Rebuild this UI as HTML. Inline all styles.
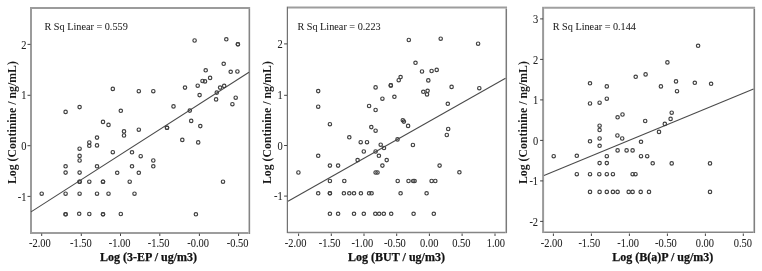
<!DOCTYPE html><html><head><meta charset="utf-8"><style>html,body{margin:0;padding:0;background:#fff;overflow:hidden}svg{display:block;will-change:transform}text{font-family:"Liberation Serif",serif}.t{font-size:11px;fill:#222;stroke:#222;stroke-width:0.05px}.r{font-size:10.6px;fill:#222;stroke:#222;stroke-width:0.05px}</style></head><body>
<svg width="762" height="271" viewBox="0 0 762 271">
<rect width="762" height="271" fill="#fff"/>
<line x1="31" y1="7.0" x2="31" y2="234.0" stroke="#9b9b9b" stroke-width="2"/>
<line x1="32.0" y1="8" x2="250.15" y2="8" stroke="#9b9b9b" stroke-width="2"/>
<line x1="249.35" y1="9.0" x2="249.35" y2="234.0" stroke="#858585" stroke-width="1.6"/>
<line x1="32.0" y1="233" x2="248.54999999999998" y2="233" stroke="#9d9d9d" stroke-width="2"/>
<line x1="27.5" y1="44.4" x2="30.5" y2="44.4" stroke="#444" stroke-width="1"/>
<text class="t" transform="translate(26.40,48.50) scale(0.95,1.04)" text-anchor="end">2</text>
<line x1="27.5" y1="95.3" x2="30.5" y2="95.3" stroke="#444" stroke-width="1"/>
<text class="t" transform="translate(26.40,99.40) scale(0.95,1.04)" text-anchor="end">1</text>
<line x1="27.5" y1="145.7" x2="30.5" y2="145.7" stroke="#444" stroke-width="1"/>
<text class="t" transform="translate(26.40,149.80) scale(0.95,1.04)" text-anchor="end">0</text>
<line x1="27.5" y1="196.4" x2="30.5" y2="196.4" stroke="#444" stroke-width="1"/>
<text class="t" transform="translate(26.40,200.50) scale(0.95,1.04)" text-anchor="end">-1</text>
<line x1="41.7" y1="233.5" x2="41.7" y2="236" stroke="#444" stroke-width="1"/>
<text class="t" transform="translate(29.00,246.9) scale(0.95,1.04)">-2.00</text>
<line x1="81.3" y1="233.5" x2="81.3" y2="236" stroke="#444" stroke-width="1"/>
<text class="t" transform="translate(70.00,246.9) scale(0.95,1.04)">-1.50</text>
<line x1="120.5" y1="233.5" x2="120.5" y2="236" stroke="#444" stroke-width="1"/>
<text class="t" transform="translate(108.80,246.9) scale(0.95,1.04)">-1.00</text>
<line x1="159.8" y1="233.5" x2="159.8" y2="236" stroke="#444" stroke-width="1"/>
<text class="t" transform="translate(147.70,246.9) scale(0.95,1.04)">-1.50</text>
<line x1="199.4" y1="233.5" x2="199.4" y2="236" stroke="#444" stroke-width="1"/>
<text class="t" transform="translate(187.30,246.9) scale(0.95,1.04)">-0.00</text>
<line x1="238.6" y1="233.5" x2="238.6" y2="236" stroke="#444" stroke-width="1"/>
<text class="t" transform="translate(226.70,246.9) scale(0.95,1.04)">-0.50</text>
<line x1="31" y1="211.9" x2="249" y2="72.3" stroke="#4a4a4a" stroke-width="1.05"/>
<circle cx="237.9" cy="44.3" r="1.72" fill="none" stroke="#404040" stroke-width="1.18"/>
<circle cx="65.6" cy="214.3" r="1.72" fill="none" stroke="#404040" stroke-width="1.18"/>
<circle cx="103" cy="181.7" r="1.72" fill="none" stroke="#404040" stroke-width="1.18"/>
<circle cx="103" cy="214.3" r="1.72" fill="none" stroke="#404040" stroke-width="1.18"/>
<circle cx="167" cy="127.8" r="1.72" fill="none" stroke="#404040" stroke-width="1.18"/>
<circle cx="79.6" cy="181.7" r="1.72" fill="none" stroke="#404040" stroke-width="1.18"/>
<circle cx="194.6" cy="40.5" r="1.72" fill="none" stroke="#404040" stroke-width="1.18"/>
<circle cx="226.3" cy="39.3" r="1.72" fill="none" stroke="#404040" stroke-width="1.18"/>
<circle cx="237.9" cy="44.3" r="1.72" fill="none" stroke="#404040" stroke-width="1.18"/>
<circle cx="223.7" cy="63.8" r="1.72" fill="none" stroke="#404040" stroke-width="1.18"/>
<circle cx="205.7" cy="70.3" r="1.72" fill="none" stroke="#404040" stroke-width="1.18"/>
<circle cx="230.7" cy="71.8" r="1.72" fill="none" stroke="#404040" stroke-width="1.18"/>
<circle cx="237.4" cy="71.5" r="1.72" fill="none" stroke="#404040" stroke-width="1.18"/>
<circle cx="210.1" cy="77.9" r="1.72" fill="none" stroke="#404040" stroke-width="1.18"/>
<circle cx="153.3" cy="91.2" r="1.72" fill="none" stroke="#404040" stroke-width="1.18"/>
<circle cx="185" cy="87.6" r="1.72" fill="none" stroke="#404040" stroke-width="1.18"/>
<circle cx="197.7" cy="85.7" r="1.72" fill="none" stroke="#404040" stroke-width="1.18"/>
<circle cx="202.5" cy="81" r="1.72" fill="none" stroke="#404040" stroke-width="1.18"/>
<circle cx="205" cy="81.4" r="1.72" fill="none" stroke="#404040" stroke-width="1.18"/>
<circle cx="220.1" cy="87.6" r="1.72" fill="none" stroke="#404040" stroke-width="1.18"/>
<circle cx="224.2" cy="85.9" r="1.72" fill="none" stroke="#404040" stroke-width="1.18"/>
<circle cx="216.8" cy="92.6" r="1.72" fill="none" stroke="#404040" stroke-width="1.18"/>
<circle cx="199.6" cy="95.1" r="1.72" fill="none" stroke="#404040" stroke-width="1.18"/>
<circle cx="216.1" cy="99.4" r="1.72" fill="none" stroke="#404040" stroke-width="1.18"/>
<circle cx="235.7" cy="97.7" r="1.72" fill="none" stroke="#404040" stroke-width="1.18"/>
<circle cx="232.4" cy="104.2" r="1.72" fill="none" stroke="#404040" stroke-width="1.18"/>
<circle cx="173.5" cy="106.4" r="1.72" fill="none" stroke="#404040" stroke-width="1.18"/>
<circle cx="189.8" cy="110.6" r="1.72" fill="none" stroke="#404040" stroke-width="1.18"/>
<circle cx="191.2" cy="120.9" r="1.72" fill="none" stroke="#404040" stroke-width="1.18"/>
<circle cx="200.3" cy="126.1" r="1.72" fill="none" stroke="#404040" stroke-width="1.18"/>
<circle cx="167" cy="127.8" r="1.72" fill="none" stroke="#404040" stroke-width="1.18"/>
<circle cx="182.3" cy="139.9" r="1.72" fill="none" stroke="#404040" stroke-width="1.18"/>
<circle cx="198.2" cy="142.4" r="1.72" fill="none" stroke="#404040" stroke-width="1.18"/>
<circle cx="140.7" cy="156.2" r="1.72" fill="none" stroke="#404040" stroke-width="1.18"/>
<circle cx="153.3" cy="160.5" r="1.72" fill="none" stroke="#404040" stroke-width="1.18"/>
<circle cx="153.3" cy="166.3" r="1.72" fill="none" stroke="#404040" stroke-width="1.18"/>
<circle cx="223" cy="181.7" r="1.72" fill="none" stroke="#404040" stroke-width="1.18"/>
<circle cx="195.9" cy="214.3" r="1.72" fill="none" stroke="#404040" stroke-width="1.18"/>
<circle cx="112.8" cy="88.9" r="1.72" fill="none" stroke="#404040" stroke-width="1.18"/>
<circle cx="138.8" cy="91.2" r="1.72" fill="none" stroke="#404040" stroke-width="1.18"/>
<circle cx="79.6" cy="107.1" r="1.72" fill="none" stroke="#404040" stroke-width="1.18"/>
<circle cx="65.6" cy="111.9" r="1.72" fill="none" stroke="#404040" stroke-width="1.18"/>
<circle cx="120.8" cy="110.8" r="1.72" fill="none" stroke="#404040" stroke-width="1.18"/>
<circle cx="103" cy="121.9" r="1.72" fill="none" stroke="#404040" stroke-width="1.18"/>
<circle cx="108.5" cy="124.9" r="1.72" fill="none" stroke="#404040" stroke-width="1.18"/>
<circle cx="124" cy="131.4" r="1.72" fill="none" stroke="#404040" stroke-width="1.18"/>
<circle cx="124" cy="135.5" r="1.72" fill="none" stroke="#404040" stroke-width="1.18"/>
<circle cx="138.8" cy="129.7" r="1.72" fill="none" stroke="#404040" stroke-width="1.18"/>
<circle cx="97" cy="137.6" r="1.72" fill="none" stroke="#404040" stroke-width="1.18"/>
<circle cx="89.3" cy="142.5" r="1.72" fill="none" stroke="#404040" stroke-width="1.18"/>
<circle cx="89.3" cy="145.8" r="1.72" fill="none" stroke="#404040" stroke-width="1.18"/>
<circle cx="97" cy="145.4" r="1.72" fill="none" stroke="#404040" stroke-width="1.18"/>
<circle cx="79.6" cy="148.7" r="1.72" fill="none" stroke="#404040" stroke-width="1.18"/>
<circle cx="112.8" cy="152.2" r="1.72" fill="none" stroke="#404040" stroke-width="1.18"/>
<circle cx="132" cy="152.3" r="1.72" fill="none" stroke="#404040" stroke-width="1.18"/>
<circle cx="79.6" cy="155.9" r="1.72" fill="none" stroke="#404040" stroke-width="1.18"/>
<circle cx="79.6" cy="160.5" r="1.72" fill="none" stroke="#404040" stroke-width="1.18"/>
<circle cx="65.6" cy="166.3" r="1.72" fill="none" stroke="#404040" stroke-width="1.18"/>
<circle cx="97" cy="166.3" r="1.72" fill="none" stroke="#404040" stroke-width="1.18"/>
<circle cx="132" cy="166.3" r="1.72" fill="none" stroke="#404040" stroke-width="1.18"/>
<circle cx="65.6" cy="172.6" r="1.72" fill="none" stroke="#404040" stroke-width="1.18"/>
<circle cx="79.6" cy="172.6" r="1.72" fill="none" stroke="#404040" stroke-width="1.18"/>
<circle cx="117.2" cy="172.8" r="1.72" fill="none" stroke="#404040" stroke-width="1.18"/>
<circle cx="138.8" cy="172.8" r="1.72" fill="none" stroke="#404040" stroke-width="1.18"/>
<circle cx="79.6" cy="181.7" r="1.72" fill="none" stroke="#404040" stroke-width="1.18"/>
<circle cx="89.3" cy="181.7" r="1.72" fill="none" stroke="#404040" stroke-width="1.18"/>
<circle cx="103" cy="181.7" r="1.72" fill="none" stroke="#404040" stroke-width="1.18"/>
<circle cx="129.7" cy="181.7" r="1.72" fill="none" stroke="#404040" stroke-width="1.18"/>
<circle cx="41.7" cy="193.7" r="1.72" fill="none" stroke="#404040" stroke-width="1.18"/>
<circle cx="65.6" cy="193.7" r="1.72" fill="none" stroke="#404040" stroke-width="1.18"/>
<circle cx="79.6" cy="193.7" r="1.72" fill="none" stroke="#404040" stroke-width="1.18"/>
<circle cx="97" cy="193.7" r="1.72" fill="none" stroke="#404040" stroke-width="1.18"/>
<circle cx="108.5" cy="193.7" r="1.72" fill="none" stroke="#404040" stroke-width="1.18"/>
<circle cx="134.5" cy="193.7" r="1.72" fill="none" stroke="#404040" stroke-width="1.18"/>
<circle cx="65.6" cy="214.3" r="1.72" fill="none" stroke="#404040" stroke-width="1.18"/>
<circle cx="79.2" cy="213.8" r="1.72" fill="none" stroke="#404040" stroke-width="1.18"/>
<circle cx="89.3" cy="214" r="1.72" fill="none" stroke="#404040" stroke-width="1.18"/>
<circle cx="103" cy="214.3" r="1.72" fill="none" stroke="#404040" stroke-width="1.18"/>
<circle cx="120.8" cy="214" r="1.72" fill="none" stroke="#404040" stroke-width="1.18"/>
<text class="r" transform="translate(44.5,30.2) scale(0.965,1)">R Sq Linear = 0.559</text>
<text x="148.5" y="260.7" font-size="12" font-weight="bold" fill="#111" stroke="#111" stroke-width="0.25" text-anchor="middle">Log (3-EP / ug/m3)</text>
<text transform="translate(15.6,122.6) rotate(-90)" font-size="11.8" font-weight="bold" fill="#1a1a1a" text-anchor="middle">Log (Continine / ng/mL)</text>
<line x1="287.4" y1="6.6" x2="287.4" y2="233.15" stroke="#727272" stroke-width="1.25"/>
<line x1="288.025" y1="7.6" x2="507.05" y2="7.6" stroke="#9d9d9d" stroke-width="2"/>
<line x1="506.3" y1="8.6" x2="506.3" y2="233.15" stroke="#7a7a7a" stroke-width="1.5"/>
<line x1="288.025" y1="232.4" x2="505.55" y2="232.4" stroke="#858585" stroke-width="1.5"/>
<line x1="284.1" y1="43.9" x2="287.1" y2="43.9" stroke="#444" stroke-width="1"/>
<text class="t" transform="translate(282.80,48.00) scale(0.95,1.04)" text-anchor="end">2</text>
<line x1="284.1" y1="95.3" x2="287.1" y2="95.3" stroke="#444" stroke-width="1"/>
<text class="t" transform="translate(282.80,99.40) scale(0.95,1.04)" text-anchor="end">1</text>
<line x1="284.1" y1="145.5" x2="287.1" y2="145.5" stroke="#444" stroke-width="1"/>
<text class="t" transform="translate(282.80,149.60) scale(0.95,1.04)" text-anchor="end">0</text>
<line x1="284.1" y1="196.1" x2="287.1" y2="196.1" stroke="#444" stroke-width="1"/>
<text class="t" transform="translate(282.80,200.20) scale(0.95,1.04)" text-anchor="end">-1</text>
<line x1="298.6" y1="233.5" x2="298.6" y2="236" stroke="#444" stroke-width="1"/>
<text class="t" transform="translate(284.70,246.9) scale(0.95,1.04)">-2.00</text>
<line x1="331.3" y1="233.5" x2="331.3" y2="236" stroke="#444" stroke-width="1"/>
<text class="t" transform="translate(318.80,246.9) scale(0.95,1.04)">-1.50</text>
<line x1="364.0" y1="233.5" x2="364.0" y2="236" stroke="#444" stroke-width="1"/>
<text class="t" transform="translate(351.40,246.9) scale(0.95,1.04)">-1.00</text>
<line x1="396.7" y1="233.5" x2="396.7" y2="236" stroke="#444" stroke-width="1"/>
<text class="t" transform="translate(384.10,246.9) scale(0.95,1.04)">-0.50</text>
<line x1="429.4" y1="233.5" x2="429.4" y2="236" stroke="#444" stroke-width="1"/>
<text class="t" transform="translate(420.10,246.9) scale(0.95,1.04)">0.00</text>
<line x1="462.1" y1="233.5" x2="462.1" y2="236" stroke="#444" stroke-width="1"/>
<text class="t" transform="translate(452.20,246.9) scale(0.95,1.04)">0.50</text>
<line x1="495.0" y1="233.5" x2="495.0" y2="236" stroke="#444" stroke-width="1"/>
<text class="t" transform="translate(486.80,246.9) scale(0.95,1.04)">1.00</text>
<line x1="288" y1="201.2" x2="505.5" y2="78.2" stroke="#4a4a4a" stroke-width="1.05"/>
<circle cx="408.8" cy="40" r="1.72" fill="none" stroke="#404040" stroke-width="1.18"/>
<circle cx="440.7" cy="38.7" r="1.72" fill="none" stroke="#404040" stroke-width="1.18"/>
<circle cx="478.1" cy="43.7" r="1.72" fill="none" stroke="#404040" stroke-width="1.18"/>
<circle cx="415.5" cy="62.8" r="1.72" fill="none" stroke="#404040" stroke-width="1.18"/>
<circle cx="422" cy="71.5" r="1.72" fill="none" stroke="#404040" stroke-width="1.18"/>
<circle cx="431.6" cy="71" r="1.72" fill="none" stroke="#404040" stroke-width="1.18"/>
<circle cx="436.7" cy="69.9" r="1.72" fill="none" stroke="#404040" stroke-width="1.18"/>
<circle cx="400.6" cy="77.1" r="1.72" fill="none" stroke="#404040" stroke-width="1.18"/>
<circle cx="398.7" cy="80.2" r="1.72" fill="none" stroke="#404040" stroke-width="1.18"/>
<circle cx="428.3" cy="80.4" r="1.72" fill="none" stroke="#404040" stroke-width="1.18"/>
<circle cx="451.6" cy="86.9" r="1.72" fill="none" stroke="#404040" stroke-width="1.18"/>
<circle cx="479.3" cy="88.2" r="1.72" fill="none" stroke="#404040" stroke-width="1.18"/>
<circle cx="423.3" cy="91.8" r="1.72" fill="none" stroke="#404040" stroke-width="1.18"/>
<circle cx="427.6" cy="90.8" r="1.72" fill="none" stroke="#404040" stroke-width="1.18"/>
<circle cx="427" cy="94.4" r="1.72" fill="none" stroke="#404040" stroke-width="1.18"/>
<circle cx="447.8" cy="103.8" r="1.72" fill="none" stroke="#404040" stroke-width="1.18"/>
<circle cx="402.8" cy="120.2" r="1.72" fill="none" stroke="#404040" stroke-width="1.18"/>
<circle cx="403.9" cy="121.6" r="1.72" fill="none" stroke="#404040" stroke-width="1.18"/>
<circle cx="408.1" cy="125.9" r="1.72" fill="none" stroke="#404040" stroke-width="1.18"/>
<circle cx="448.2" cy="129" r="1.72" fill="none" stroke="#404040" stroke-width="1.18"/>
<circle cx="446.8" cy="135" r="1.72" fill="none" stroke="#404040" stroke-width="1.18"/>
<circle cx="397.5" cy="139.4" r="1.72" fill="none" stroke="#404040" stroke-width="1.18"/>
<circle cx="412.9" cy="145" r="1.72" fill="none" stroke="#404040" stroke-width="1.18"/>
<circle cx="439.6" cy="165.6" r="1.72" fill="none" stroke="#404040" stroke-width="1.18"/>
<circle cx="459.4" cy="172.3" r="1.72" fill="none" stroke="#404040" stroke-width="1.18"/>
<circle cx="397.7" cy="181" r="1.72" fill="none" stroke="#404040" stroke-width="1.18"/>
<circle cx="408.5" cy="181" r="1.72" fill="none" stroke="#404040" stroke-width="1.18"/>
<circle cx="413.2" cy="181" r="1.72" fill="none" stroke="#404040" stroke-width="1.18"/>
<circle cx="414.6" cy="181" r="1.72" fill="none" stroke="#404040" stroke-width="1.18"/>
<circle cx="431.6" cy="181" r="1.72" fill="none" stroke="#404040" stroke-width="1.18"/>
<circle cx="435.3" cy="181" r="1.72" fill="none" stroke="#404040" stroke-width="1.18"/>
<circle cx="400.6" cy="193.3" r="1.72" fill="none" stroke="#404040" stroke-width="1.18"/>
<circle cx="426.6" cy="193.3" r="1.72" fill="none" stroke="#404040" stroke-width="1.18"/>
<circle cx="413.6" cy="213.8" r="1.72" fill="none" stroke="#404040" stroke-width="1.18"/>
<circle cx="433.8" cy="213.8" r="1.72" fill="none" stroke="#404040" stroke-width="1.18"/>
<circle cx="318.2" cy="91.1" r="1.72" fill="none" stroke="#404040" stroke-width="1.18"/>
<circle cx="318.2" cy="106.7" r="1.72" fill="none" stroke="#404040" stroke-width="1.18"/>
<circle cx="375.6" cy="87.4" r="1.72" fill="none" stroke="#404040" stroke-width="1.18"/>
<circle cx="390.8" cy="85.4" r="1.72" fill="none" stroke="#404040" stroke-width="1.18"/>
<circle cx="390.8" cy="85.4" r="1.72" fill="none" stroke="#404040" stroke-width="1.18"/>
<circle cx="382.4" cy="98.7" r="1.72" fill="none" stroke="#404040" stroke-width="1.18"/>
<circle cx="394.4" cy="96.8" r="1.72" fill="none" stroke="#404040" stroke-width="1.18"/>
<circle cx="369.1" cy="106" r="1.72" fill="none" stroke="#404040" stroke-width="1.18"/>
<circle cx="375.6" cy="110" r="1.72" fill="none" stroke="#404040" stroke-width="1.18"/>
<circle cx="329.9" cy="124.2" r="1.72" fill="none" stroke="#404040" stroke-width="1.18"/>
<circle cx="371.3" cy="127.1" r="1.72" fill="none" stroke="#404040" stroke-width="1.18"/>
<circle cx="375.6" cy="130.7" r="1.72" fill="none" stroke="#404040" stroke-width="1.18"/>
<circle cx="349.3" cy="137.3" r="1.72" fill="none" stroke="#404040" stroke-width="1.18"/>
<circle cx="360.7" cy="142.2" r="1.72" fill="none" stroke="#404040" stroke-width="1.18"/>
<circle cx="367" cy="142.2" r="1.72" fill="none" stroke="#404040" stroke-width="1.18"/>
<circle cx="380.7" cy="144.7" r="1.72" fill="none" stroke="#404040" stroke-width="1.18"/>
<circle cx="384" cy="148" r="1.72" fill="none" stroke="#404040" stroke-width="1.18"/>
<circle cx="363.8" cy="151.5" r="1.72" fill="none" stroke="#404040" stroke-width="1.18"/>
<circle cx="375.6" cy="151.5" r="1.72" fill="none" stroke="#404040" stroke-width="1.18"/>
<circle cx="378.9" cy="155.8" r="1.72" fill="none" stroke="#404040" stroke-width="1.18"/>
<circle cx="318.2" cy="155.8" r="1.72" fill="none" stroke="#404040" stroke-width="1.18"/>
<circle cx="357.6" cy="160.1" r="1.72" fill="none" stroke="#404040" stroke-width="1.18"/>
<circle cx="386.7" cy="160.1" r="1.72" fill="none" stroke="#404040" stroke-width="1.18"/>
<circle cx="329.9" cy="165.6" r="1.72" fill="none" stroke="#404040" stroke-width="1.18"/>
<circle cx="338.1" cy="165.6" r="1.72" fill="none" stroke="#404040" stroke-width="1.18"/>
<circle cx="382.4" cy="165.6" r="1.72" fill="none" stroke="#404040" stroke-width="1.18"/>
<circle cx="298.4" cy="172.5" r="1.72" fill="none" stroke="#404040" stroke-width="1.18"/>
<circle cx="375.6" cy="172.5" r="1.72" fill="none" stroke="#404040" stroke-width="1.18"/>
<circle cx="377.5" cy="172.5" r="1.72" fill="none" stroke="#404040" stroke-width="1.18"/>
<circle cx="329.9" cy="181" r="1.72" fill="none" stroke="#404040" stroke-width="1.18"/>
<circle cx="344.3" cy="181" r="1.72" fill="none" stroke="#404040" stroke-width="1.18"/>
<circle cx="318.2" cy="193.3" r="1.72" fill="none" stroke="#404040" stroke-width="1.18"/>
<circle cx="329.9" cy="193.3" r="1.72" fill="none" stroke="#404040" stroke-width="1.18"/>
<circle cx="329.9" cy="193.3" r="1.72" fill="none" stroke="#404040" stroke-width="1.18"/>
<circle cx="343.9" cy="193.3" r="1.72" fill="none" stroke="#404040" stroke-width="1.18"/>
<circle cx="349.3" cy="193.3" r="1.72" fill="none" stroke="#404040" stroke-width="1.18"/>
<circle cx="354" cy="193.3" r="1.72" fill="none" stroke="#404040" stroke-width="1.18"/>
<circle cx="360.9" cy="193.3" r="1.72" fill="none" stroke="#404040" stroke-width="1.18"/>
<circle cx="369.1" cy="193.3" r="1.72" fill="none" stroke="#404040" stroke-width="1.18"/>
<circle cx="371.6" cy="193.3" r="1.72" fill="none" stroke="#404040" stroke-width="1.18"/>
<circle cx="329.9" cy="213.8" r="1.72" fill="none" stroke="#404040" stroke-width="1.18"/>
<circle cx="338.1" cy="213.8" r="1.72" fill="none" stroke="#404040" stroke-width="1.18"/>
<circle cx="354" cy="213.8" r="1.72" fill="none" stroke="#404040" stroke-width="1.18"/>
<circle cx="363.8" cy="213.8" r="1.72" fill="none" stroke="#404040" stroke-width="1.18"/>
<circle cx="375.3" cy="213.8" r="1.72" fill="none" stroke="#404040" stroke-width="1.18"/>
<circle cx="379.2" cy="213.8" r="1.72" fill="none" stroke="#404040" stroke-width="1.18"/>
<circle cx="383.8" cy="213.8" r="1.72" fill="none" stroke="#404040" stroke-width="1.18"/>
<circle cx="391.2" cy="213.8" r="1.72" fill="none" stroke="#404040" stroke-width="1.18"/>
<text class="r" transform="translate(297.40000000000003,30.2) scale(0.965,1)">R Sq Linear = 0.223</text>
<text x="396.5" y="260.7" font-size="12" font-weight="bold" fill="#111" stroke="#111" stroke-width="0.25" text-anchor="middle">Log (BUT / ug/m3)</text>
<text transform="translate(270.6,122.6) rotate(-90)" font-size="11.8" font-weight="bold" fill="#1a1a1a" text-anchor="middle">Log (Continine / ng/mL)</text>
<line x1="543.1" y1="6.8" x2="543.1" y2="233.05" stroke="#999" stroke-width="2"/>
<line x1="544.1" y1="7.8" x2="755.0999999999999" y2="7.8" stroke="#a0a0a0" stroke-width="2"/>
<line x1="754.3" y1="8.8" x2="754.3" y2="233.05" stroke="#7f7f7f" stroke-width="1.6"/>
<line x1="544.1" y1="232.3" x2="753.5" y2="232.3" stroke="#858585" stroke-width="1.5"/>
<line x1="540.1" y1="18.9" x2="543.1" y2="18.9" stroke="#444" stroke-width="1"/>
<text class="t" transform="translate(538.10,23.00) scale(0.95,1.04)" text-anchor="end">3</text>
<line x1="540.1" y1="59.4" x2="543.1" y2="59.4" stroke="#444" stroke-width="1"/>
<text class="t" transform="translate(538.10,63.50) scale(0.95,1.04)" text-anchor="end">2</text>
<line x1="540.1" y1="99.9" x2="543.1" y2="99.9" stroke="#444" stroke-width="1"/>
<text class="t" transform="translate(538.10,104.00) scale(0.95,1.04)" text-anchor="end">1</text>
<line x1="540.1" y1="140.4" x2="543.1" y2="140.4" stroke="#444" stroke-width="1"/>
<text class="t" transform="translate(538.10,144.50) scale(0.95,1.04)" text-anchor="end">0</text>
<line x1="540.1" y1="180.9" x2="543.1" y2="180.9" stroke="#444" stroke-width="1"/>
<text class="t" transform="translate(538.10,185.00) scale(0.95,1.04)" text-anchor="end">-1</text>
<line x1="540.1" y1="221.4" x2="543.1" y2="221.4" stroke="#444" stroke-width="1"/>
<text class="t" transform="translate(538.10,225.50) scale(0.95,1.04)" text-anchor="end">-2</text>
<line x1="553.4" y1="233.5" x2="553.4" y2="236" stroke="#444" stroke-width="1"/>
<text class="t" transform="translate(540.70,246.9) scale(0.95,1.04)">-2.00</text>
<line x1="591.4" y1="233.5" x2="591.4" y2="236" stroke="#444" stroke-width="1"/>
<text class="t" transform="translate(578.40,246.9) scale(0.95,1.04)">-1.50</text>
<line x1="629.4" y1="233.5" x2="629.4" y2="236" stroke="#444" stroke-width="1"/>
<text class="t" transform="translate(617.30,246.9) scale(0.95,1.04)">-1.00</text>
<line x1="667.4" y1="233.5" x2="667.4" y2="236" stroke="#444" stroke-width="1"/>
<text class="t" transform="translate(655.10,246.9) scale(0.95,1.04)">-0.50</text>
<line x1="705.4" y1="233.5" x2="705.4" y2="236" stroke="#444" stroke-width="1"/>
<text class="t" transform="translate(695.70,246.9) scale(0.95,1.04)">0.00</text>
<line x1="743.3" y1="233.5" x2="743.3" y2="236" stroke="#444" stroke-width="1"/>
<text class="t" transform="translate(733.70,246.9) scale(0.95,1.04)">0.50</text>
<line x1="544" y1="175.6" x2="753.5" y2="89.0" stroke="#4a4a4a" stroke-width="1.05"/>
<circle cx="698.1" cy="45.8" r="1.72" fill="none" stroke="#404040" stroke-width="1.18"/>
<circle cx="667.4" cy="62.4" r="1.72" fill="none" stroke="#404040" stroke-width="1.18"/>
<circle cx="645.6" cy="74.4" r="1.72" fill="none" stroke="#404040" stroke-width="1.18"/>
<circle cx="660.9" cy="86.4" r="1.72" fill="none" stroke="#404040" stroke-width="1.18"/>
<circle cx="676" cy="81.4" r="1.72" fill="none" stroke="#404040" stroke-width="1.18"/>
<circle cx="677" cy="91.2" r="1.72" fill="none" stroke="#404040" stroke-width="1.18"/>
<circle cx="694.8" cy="82.8" r="1.72" fill="none" stroke="#404040" stroke-width="1.18"/>
<circle cx="711.1" cy="83.8" r="1.72" fill="none" stroke="#404040" stroke-width="1.18"/>
<circle cx="671.7" cy="112.7" r="1.72" fill="none" stroke="#404040" stroke-width="1.18"/>
<circle cx="670.6" cy="118.9" r="1.72" fill="none" stroke="#404040" stroke-width="1.18"/>
<circle cx="664.8" cy="123.9" r="1.72" fill="none" stroke="#404040" stroke-width="1.18"/>
<circle cx="659" cy="131.9" r="1.72" fill="none" stroke="#404040" stroke-width="1.18"/>
<circle cx="645.2" cy="121" r="1.72" fill="none" stroke="#404040" stroke-width="1.18"/>
<circle cx="647.2" cy="156.2" r="1.72" fill="none" stroke="#404040" stroke-width="1.18"/>
<circle cx="652.7" cy="163.3" r="1.72" fill="none" stroke="#404040" stroke-width="1.18"/>
<circle cx="671.7" cy="163.4" r="1.72" fill="none" stroke="#404040" stroke-width="1.18"/>
<circle cx="710" cy="163.4" r="1.72" fill="none" stroke="#404040" stroke-width="1.18"/>
<circle cx="649" cy="191.9" r="1.72" fill="none" stroke="#404040" stroke-width="1.18"/>
<circle cx="710" cy="191.9" r="1.72" fill="none" stroke="#404040" stroke-width="1.18"/>
<circle cx="635.7" cy="76.8" r="1.72" fill="none" stroke="#404040" stroke-width="1.18"/>
<circle cx="590" cy="83.3" r="1.72" fill="none" stroke="#404040" stroke-width="1.18"/>
<circle cx="606.8" cy="86.4" r="1.72" fill="none" stroke="#404040" stroke-width="1.18"/>
<circle cx="606.8" cy="98.7" r="1.72" fill="none" stroke="#404040" stroke-width="1.18"/>
<circle cx="599.6" cy="102.7" r="1.72" fill="none" stroke="#404040" stroke-width="1.18"/>
<circle cx="590" cy="103.5" r="1.72" fill="none" stroke="#404040" stroke-width="1.18"/>
<circle cx="617.6" cy="117.3" r="1.72" fill="none" stroke="#404040" stroke-width="1.18"/>
<circle cx="622.5" cy="114.5" r="1.72" fill="none" stroke="#404040" stroke-width="1.18"/>
<circle cx="599.6" cy="125.7" r="1.72" fill="none" stroke="#404040" stroke-width="1.18"/>
<circle cx="599.6" cy="130" r="1.72" fill="none" stroke="#404040" stroke-width="1.18"/>
<circle cx="599.6" cy="138.5" r="1.72" fill="none" stroke="#404040" stroke-width="1.18"/>
<circle cx="617.4" cy="135.5" r="1.72" fill="none" stroke="#404040" stroke-width="1.18"/>
<circle cx="622.2" cy="138.5" r="1.72" fill="none" stroke="#404040" stroke-width="1.18"/>
<circle cx="590" cy="141.3" r="1.72" fill="none" stroke="#404040" stroke-width="1.18"/>
<circle cx="641" cy="141.8" r="1.72" fill="none" stroke="#404040" stroke-width="1.18"/>
<circle cx="599.6" cy="145.8" r="1.72" fill="none" stroke="#404040" stroke-width="1.18"/>
<circle cx="617.6" cy="150.4" r="1.72" fill="none" stroke="#404040" stroke-width="1.18"/>
<circle cx="626.6" cy="150.4" r="1.72" fill="none" stroke="#404040" stroke-width="1.18"/>
<circle cx="632.6" cy="150.4" r="1.72" fill="none" stroke="#404040" stroke-width="1.18"/>
<circle cx="553.7" cy="156.2" r="1.72" fill="none" stroke="#404040" stroke-width="1.18"/>
<circle cx="576.8" cy="155.8" r="1.72" fill="none" stroke="#404040" stroke-width="1.18"/>
<circle cx="606.8" cy="156.2" r="1.72" fill="none" stroke="#404040" stroke-width="1.18"/>
<circle cx="641" cy="156.2" r="1.72" fill="none" stroke="#404040" stroke-width="1.18"/>
<circle cx="599.6" cy="163.1" r="1.72" fill="none" stroke="#404040" stroke-width="1.18"/>
<circle cx="606.8" cy="163.1" r="1.72" fill="none" stroke="#404040" stroke-width="1.18"/>
<circle cx="576.8" cy="174.2" r="1.72" fill="none" stroke="#404040" stroke-width="1.18"/>
<circle cx="590" cy="174.2" r="1.72" fill="none" stroke="#404040" stroke-width="1.18"/>
<circle cx="599.3" cy="174.2" r="1.72" fill="none" stroke="#404040" stroke-width="1.18"/>
<circle cx="606.8" cy="174.2" r="1.72" fill="none" stroke="#404040" stroke-width="1.18"/>
<circle cx="612.9" cy="174.2" r="1.72" fill="none" stroke="#404040" stroke-width="1.18"/>
<circle cx="632.6" cy="174.2" r="1.72" fill="none" stroke="#404040" stroke-width="1.18"/>
<circle cx="635.5" cy="174.2" r="1.72" fill="none" stroke="#404040" stroke-width="1.18"/>
<circle cx="590" cy="191.9" r="1.72" fill="none" stroke="#404040" stroke-width="1.18"/>
<circle cx="599.6" cy="191.9" r="1.72" fill="none" stroke="#404040" stroke-width="1.18"/>
<circle cx="606.8" cy="191.9" r="1.72" fill="none" stroke="#404040" stroke-width="1.18"/>
<circle cx="612.9" cy="191.9" r="1.72" fill="none" stroke="#404040" stroke-width="1.18"/>
<circle cx="617.6" cy="191.9" r="1.72" fill="none" stroke="#404040" stroke-width="1.18"/>
<circle cx="628.7" cy="191.9" r="1.72" fill="none" stroke="#404040" stroke-width="1.18"/>
<circle cx="632.6" cy="191.9" r="1.72" fill="none" stroke="#404040" stroke-width="1.18"/>
<circle cx="640.7" cy="191.9" r="1.72" fill="none" stroke="#404040" stroke-width="1.18"/>
<text class="r" transform="translate(552.7,30.2) scale(0.965,1)">R Sq Linear = 0.144</text>
<text x="662.8" y="260.7" font-size="12" font-weight="bold" fill="#111" stroke="#111" stroke-width="0.25" text-anchor="middle">Log (B(a)P / ug/m3)</text>
<text transform="translate(526.8,122.6) rotate(-90)" font-size="11.8" font-weight="bold" fill="#1a1a1a" text-anchor="middle">Log (Continine / ng/mL)</text>
</svg></body></html>
